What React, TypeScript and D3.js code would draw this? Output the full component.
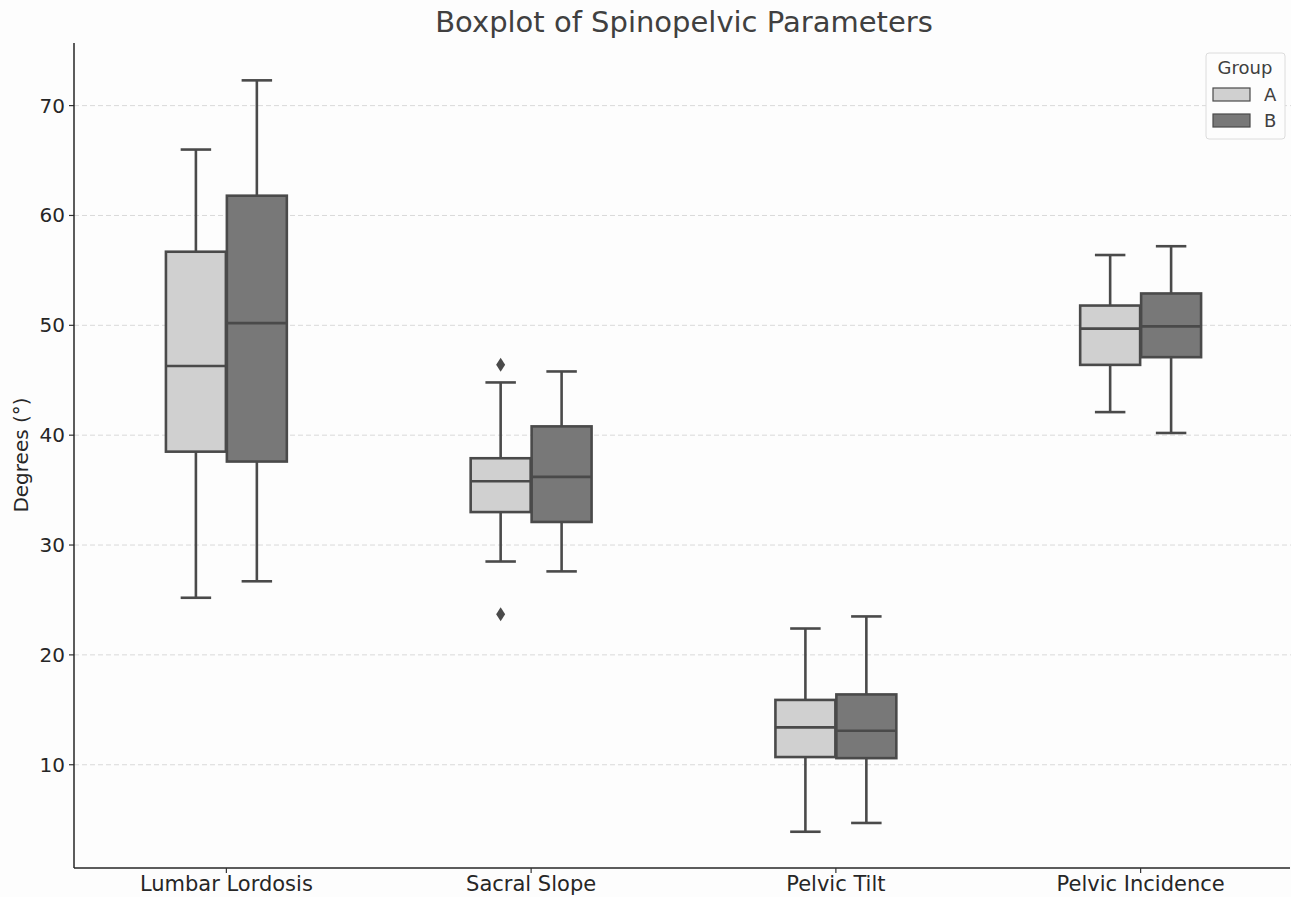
import React from "react";
import * as d3 from "d3";

const categories = ["Lumbar Lordosis", "Sacral Slope", "Pelvic Tilt", "Pelvic Incidence"];
const groups = ["A", "B"];
const groupColors = ["#d0d0d0", "#787878"];

// [whiskerLow, q1, median, q3, whiskerHigh] per category, per group
const statsA = [
  [25.2, 38.5, 46.3, 56.7, 66.0],
  [28.5, 33.0, 35.8, 37.9, 44.8],
  [3.9, 10.7, 13.4, 15.9, 22.4],
  [42.1, 46.4, 49.7, 51.8, 56.4],
];
const statsB = [
  [26.7, 37.6, 50.2, 61.8, 72.3],
  [27.6, 32.1, 36.2, 40.8, 45.8],
  [4.7, 10.6, 13.1, 16.4, 23.5],
  [40.2, 47.1, 49.9, 52.9, 57.2],
];
const outliersA = [[], [46.4, 23.7], [], []];
const outliersB = [[], [], [], []];
const yTicks = [10, 20, 30, 40, 50, 60, 70];

const W = 1291;
const H = 897;
const left = 74;
const right = 1293;
const top = 43;
const bottom = 868;
const stroke = "#4a4a4a";

export default function App() {
  const x = d3.scaleBand<string>().domain(categories).range([left, right]).padding(0);
  const y = d3.scaleLinear().domain([0.6, 75.7]).range([bottom, top]);
  const hue = d3.scaleBand<string>().domain(groups).range([-0.2, 0.2]).padding(0);

  const stats = [statsA, statsB];
  const outs = [outliersA, outliersB];
  const bw = x.bandwidth();

  return (
    <svg width={W} height={H} style={{ position: "absolute", left: 0, top: 0, background: "#fdfdfd" }}
      fontFamily="DejaVu Sans, sans-serif">
      <rect x={0} y={0} width={W} height={H} fill="#fdfdfd" />
      <text x={684} y={32} textAnchor="middle" fontSize={29} fill="#404040">
        Boxplot of Spinopelvic Parameters
      </text>
      {yTicks.map((t) => (
        <g key={t}>
          <line x1={left} x2={W} y1={y(t)} y2={y(t)} stroke="#d9d9d9" strokeWidth={1} strokeDasharray="5,3" />
          <line x1={left - 5} x2={left} y1={y(t)} y2={y(t)} stroke="#333" strokeWidth={1.2} />
          <text x={left - 9} y={y(t)} dy="0.35em" textAnchor="end" fontSize={20} fill="#262626">{t}</text>
        </g>
      ))}
      {categories.map((c, ci) =>
        groups.map((g, gi) => {
          const [lo, q1, med, q3, hi] = stats[gi][ci];
          const x0 = (x(c) as number) + bw / 2 + (hue(g) as number) * bw;
          const w = hue.bandwidth() * bw;
          const cx = x0 + w / 2;
          const cap = w / 4;
          return (
            <g key={c + g} stroke={stroke} strokeWidth={2.6}>
              <line x1={cx} x2={cx} y1={y(q3)} y2={y(hi)} />
              <line x1={cx} x2={cx} y1={y(q1)} y2={y(lo)} />
              <line x1={cx - cap} x2={cx + cap} y1={y(hi)} y2={y(hi)} />
              <line x1={cx - cap} x2={cx + cap} y1={y(lo)} y2={y(lo)} />
              <rect x={x0 + 0.5} y={y(q3)} width={w - 1} height={y(q1) - y(q3)} fill={groupColors[gi]} />
              <line x1={x0 + 0.5} x2={x0 + w - 0.5} y1={y(med)} y2={y(med)} />
              {outs[gi][ci].map((o, oi) => (
                <path key={oi} d={`M${cx},${y(o) - 7} L${cx + 4.5},${y(o)} L${cx},${y(o) + 7} L${cx - 4.5},${y(o)} Z`}
                  fill={stroke} strokeWidth={0} />
              ))}
            </g>
          );
        })
      )}
      <line x1={left} x2={left} y1={top} y2={bottom} stroke="#262626" strokeWidth={1.5} />
      <line x1={left} x2={1290} y1={bottom} y2={bottom} stroke="#262626" strokeWidth={1.5} />
      {categories.map((c) => {
        const cx = (x(c) as number) + bw / 2;
        return (
          <g key={c}>
            <line x1={cx} x2={cx} y1={bottom} y2={bottom + 5} stroke="#333" strokeWidth={1.2} />
            <text x={cx} y={bottom + 23} textAnchor="middle" fontSize={21} fill="#262626">{c}</text>
          </g>
        );
      })}
      <text transform={`translate(28,${455}) rotate(-90)`} textAnchor="middle" fontSize={20} fill="#262626">
        Degrees (°)
      </text>
      <g>
        <rect x={1206} y={53} width={79} height={86} rx={3} fill="#fdfdfd" stroke="#dcdcdc" strokeWidth={1} />
        <text x={1245} y={74} textAnchor="middle" fontSize={18} fill="#404040">Group</text>
        {groups.map((g, gi) => (
          <g key={g}>
            <rect x={1213} y={88 + gi * 26} width={37} height={13} fill={groupColors[gi]} stroke={stroke} strokeWidth={1.2} />
            <text x={1264} y={94.5 + gi * 26} dy="0.35em" fontSize={18} fill="#404040">{g}</text>
          </g>
        ))}
      </g>
    </svg>
  );
}
